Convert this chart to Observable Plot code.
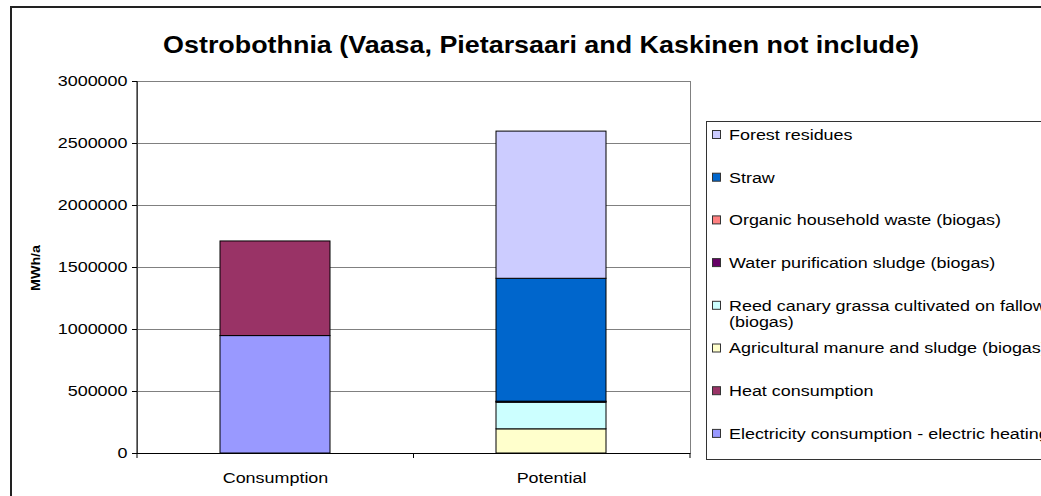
<!DOCTYPE html>
<html><head><meta charset="utf-8">
<script src="https://cdn.jsdelivr.net/npm/d3@7"></script>
<script src="https://cdn.jsdelivr.net/npm/@observablehq/plot@0.6"></script>
<style>body{margin:0;background:#fff;overflow:hidden;}</style>
</head><body><div id="chart"></div>
<script>
const title = "Ostrobothnia (Vaasa, Pietarsaari and Kaskinen not include)";
const yLabel = "MWh/a";
const categories = ["Consumption", "Potential"];
const seriesNames = [
  "Electricity consumption - electric heating",
  "Heat consumption",
  "Agricultural manure and sludge (biogas)",
  "Reed canary grassa cultivated on fallow (biogas)",
  "Water purification sludge (biogas)",
  "Organic household waste (biogas)",
  "Straw",
  "Forest residues"
];
const legendLabels = [
  "Electricity consumption - electric heating",
  "Heat consumption",
  "Agricultural manure and sludge (biogas)",
  "Reed canary grassa cultivated on fallow\n(biogas)",
  "Water purification sludge (biogas)",
  "Organic household waste (biogas)",
  "Straw",
  "Forest residues"
];
const seriesColors = ["#9999FF", "#993366", "#FFFFCC", "#CCFFFF", "#660066", "#FF8080", "#0066CC", "#CCCCFF"];
const consumptionValues = [947000, 763000, 0, 0, 0, 0, 0, 0];
const potentialValues = [0, 0, 195000, 215000, 4000, 4000, 991000, 1187000];
const yTicks = [0, 500000, 1000000, 1500000, 2000000, 2500000, 3000000];

const rows = [];
categories.forEach((c, ci) => {
  const vals = ci === 0 ? consumptionValues : potentialValues;
  seriesNames.forEach((s, si) => { if (vals[si] > 0) rows.push({category: c, series: s, value: vals[si]}); });
});

const FONT = "'Liberation Sans', Arial, Helvetica, sans-serif";
const plot = Plot.plot({
  width: 1041, height: 496,
  marginLeft: 137, marginRight: 351, marginTop: 81, marginBottom: 43,
  style: {fontFamily: FONT, fontSize: "14px", background: "#fff", color: "#000", overflow: "hidden"},
  x: {domain: categories, paddingInner: 0.6, paddingOuter: 0.3, label: null, axis: null},
  y: {domain: [0, 3000000], label: null, axis: null},
  color: {domain: seriesNames, range: seriesColors},
  marks: [
    Plot.gridY(yTicks, {stroke: "#808080", strokeOpacity: 1}),
    Plot.frame({stroke: "#808080"}),
    Plot.barY(rows, {x: "category", y: "value", fill: "series", stroke: "#000", strokeWidth: 1, order: seriesNames}),
    Plot.ruleY([0], {stroke: "#000"}),
    Plot.axisY(yTicks, {tickFormat: d3.format("d"), tickSize: 5, tickPadding: 5, fontSize: 14, label: null, stroke: "#000"}),
    Plot.axisX(categories, {tickSize: 0, tickPadding: 20, fontSize: 14, label: null})
  ]
});
document.getElementById("chart").append(plot);

const svg = d3.select(plot);
const ys = plot.scale("y"), xs = plot.scale("x");
const y0 = ys.apply(0), y1 = ys.apply(3000000);
const [r0, r1] = xs.range;

// left axis line and category boundary ticks
svg.append("line").attr("x1", r0).attr("x2", r0).attr("y1", y1).attr("y2", y0).attr("stroke", "#000");
for (let i = 0; i <= categories.length; i++) {
  const bx = r0 + i * (r1 - r0) / categories.length;
  svg.append("line").attr("x1", bx).attr("x2", bx).attr("y1", y0).attr("y2", y0 + 5).attr("stroke", "#000");
}

// outer chart border
svg.append("rect").attr("x", 11).attr("y", 7).attr("width", 1100).attr("height", 600)
  .attr("fill", "none").attr("stroke", "#222").attr("stroke-width", 2);

// title
svg.append("text").attr("x", 541).attr("y", 53).attr("text-anchor", "middle")
  .attr("font-weight", "bold").attr("font-size", 24).attr("data-k", 1.12).text(title);

// y label
svg.append("text").attr("transform", "translate(35,268) rotate(-90)").attr("text-anchor", "middle")
  .attr("dominant-baseline", "central").attr("font-weight", "bold").attr("font-size", 13).attr("data-k", 1.1).text(yLabel);

// legend
const lg = svg.append("g").attr("text-anchor", "start");
lg.append("rect").attr("x", 706.5).attr("y", 121.5).attr("width", 400).attr("height", 338)
  .attr("fill", "#fff").attr("stroke", "#333");
const order = seriesNames.map((s, i) => i).reverse();
order.forEach((si, j) => {
  const cy = 135 + j * 42.7;
  lg.append("rect").attr("x", 712.5).attr("y", cy - 4.5).attr("width", 8).attr("height", 8)
    .attr("fill", seriesColors[si]).attr("stroke", "#333");
  legendLabels[si].split("\n").forEach((line, li) => {
    lg.append("text").attr("x", 729).attr("y", cy + li * 16).attr("dy", "0.35em")
      .attr("text-anchor", "start").attr("font-size", 14).text(line);
  });
});

// horizontal stretch of text to match the reference rendering
svg.selectAll("text").each(function() {
  const k = +(this.getAttribute("data-k") || 1.28);
  const w = this.getComputedTextLength();
  if (w > 0 && k !== 1) { this.setAttribute("textLength", w * k); this.setAttribute("lengthAdjust", "spacingAndGlyphs"); }
});
</script>
</body></html>
